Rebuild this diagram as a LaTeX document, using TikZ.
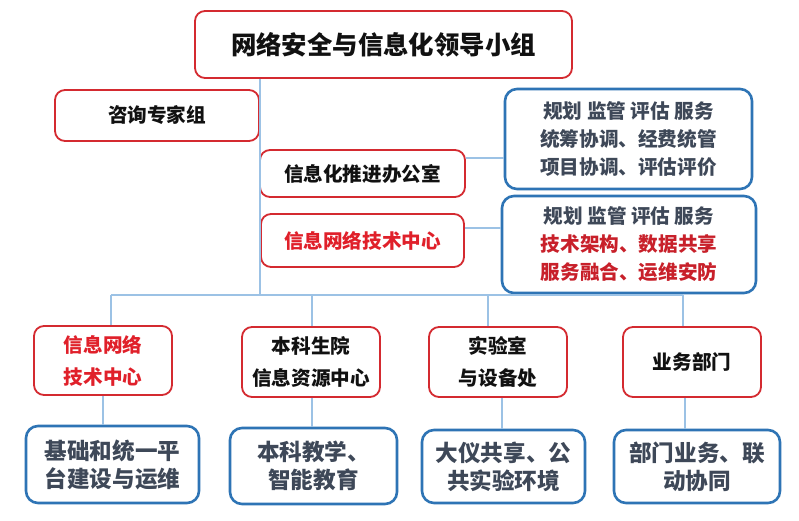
\documentclass[tikz,border=0pt]{standalone}
\usepackage{fontspec}
\setmainfont{Noto Sans CJK SC}
\definecolor{redb}{HTML}{D42A30}
\definecolor{blueb}{HTML}{2E74B5}
\definecolor{conn}{HTML}{9CC2E5}
\definecolor{txtd}{HTML}{111111}
\definecolor{txtg}{HTML}{3E4858}
\definecolor{txtr}{HTML}{E0202A}
\definecolor{txtr2}{HTML}{C8202A}
\begin{document}
\begin{tikzpicture}[x=1pt,y=-1pt,
  redbox/.style={draw=redb,line width=1.8pt,rounded corners=10pt,fill=white,inner sep=0pt,align=center,text=txtd},
  bluebox/.style={draw=blueb,line width=2.6pt,rounded corners=12pt,fill=white,inner sep=0pt,align=center,text=txtg},
  fmid/.style={font=\fontsize{19.6}{28}\selectfont\bfseries},
  fbot/.style={font=\fontsize{19.6}{32}\selectfont\bfseries},
  fblue/.style={font=\fontsize{22.6}{28}\selectfont\bfseries},
  link/.style={draw=conn,line width=1.3pt}]
\useasboundingbox (0,0) rectangle (799,520);
\fill[white] (0,0) rectangle (799,520);

\node[redbox,minimum width=377pt,minimum height=67pt,font=\fontsize{25.4}{30}\selectfont\bfseries] (title) at (383.5,44.5) {网络安全与信息化领导小组};
\node[redbox,fmid,minimum width=204pt,minimum height=51pt] (zixun) at (157,115.5) {咨询专家组};
\node[redbox,fmid,minimum width=205pt,minimum height=47pt] (tuijin) at (362.5,173.5) {信息化推进办公室};
\node[redbox,fmid,minimum width=203pt,minimum height=53pt,text=txtr] (wlzx) at (362.5,240.5) {信息网络技术中心};
\node[bluebox,fmid,minimum width=247pt,minimum height=100pt] (b1) at (628.5,139) {规划 监管 评估 服务\\统筹协调、经费统管\\项目协调、评估评价};
\node[bluebox,fmid,minimum width=254pt,minimum height=97pt] (b2) at (629,244.5) {规划 监管 评估 服务\\\textcolor{txtr2}{技术架构、数据共享}\\\textcolor{txtr2}{服务融合、运维安防}};

\node[redbox,fbot,minimum width=138pt,minimum height=69pt,text=txtr] (r1) at (103,360.5) {信息网络\\技术中心};
\node[redbox,fbot,minimum width=138pt,minimum height=70pt] (r2) at (311,362) {本科生院\\信息资源中心};
\node[redbox,fbot,minimum width=138pt,minimum height=70pt] (r3) at (498,362) {实验室\\与设备处};
\node[redbox,fbot,minimum width=138pt,minimum height=70pt] (r4) at (692,362) {业务部门};

\node[bluebox,fblue,minimum width=173pt,minimum height=77pt] (u1) at (112.5,464.5) {基础和统一平\\台建设与运维};
\node[bluebox,fblue,minimum width=167pt,minimum height=76pt] (u2) at (313.5,466) {本科教学、\\智能教育};
\node[bluebox,fblue,minimum width=163pt,minimum height=73pt] (u3) at (503.5,466.5) {大仪共享、公\\共实验环境};
\node[bluebox,fblue,minimum width=166pt,minimum height=73pt] (u4) at (697,466.5) {部门业务、联\\动协同};

\coordinate (m) at (260,295);
\coordinate (c1) at (0,158);
\coordinate (c2) at (0,228);
\coordinate (d1) at (111,295);
\coordinate (d2) at (312,295);
\coordinate (d3) at (488,295);
\coordinate (d4) at (683,295);
\coordinate (e1) at (103,0);
\coordinate (e2) at (312,0);
\coordinate (e3) at (502,0);
\coordinate (e4) at (685,0);

\path[link] (title.south -| m) -- (m);
\path[link] (tuijin.east |- c1) -- (b1.west |- c1);
\path[link] (wlzx.east |- c2) -- (b2.west |- c2);
\path[link] (d1) -- (d4);
\path[link] (d1) -- (d1 |- r1.north);
\path[link] (d2) -- (d2 |- r2.north);
\path[link] (d3) -- (d3 |- r3.north);
\path[link] (d4) -- (d4 |- r4.north);
\path[link] (r1.south -| e1) -- (u1.north -| e1);
\path[link] (r2.south -| e2) -- (u2.north -| e2);
\path[link] (r3.south -| e3) -- (u3.north -| e3);
\path[link] (r4.south -| e4) -- (u4.north -| e4);
\end{tikzpicture}
\end{document}
